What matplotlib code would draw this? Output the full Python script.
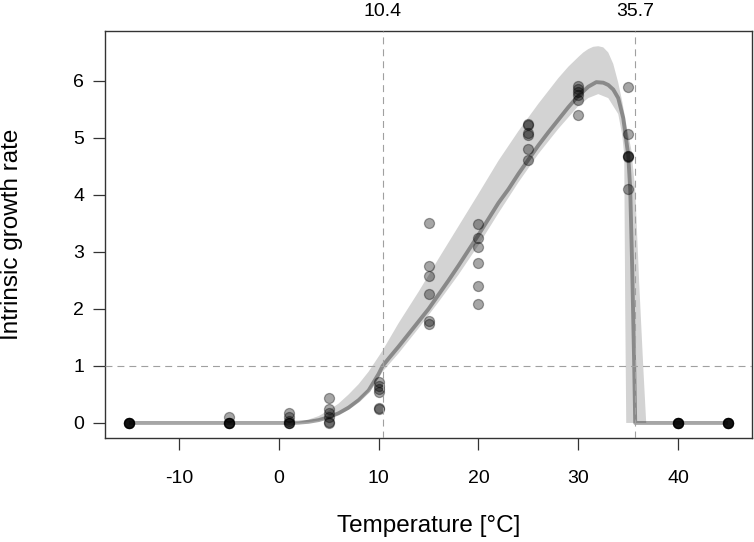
import numpy as np
import matplotlib.pyplot as plt
from matplotlib.transforms import blended_transform_factory

plt.rcParams['font.family'] = ['Liberation Sans', 'DejaVu Sans']
plt.rcParams['lines.scale_dashes'] = False
plt.rcParams['axes.unicode_minus'] = False

# observed growth rates, six replicates per temperature
temps = [-15, -5, 1, 5, 10, 15, 20, 25, 30, 35, 40, 45]
rates = [
    [0, 0, 0, 0, 0, 0],
    [0, 0, 0, 0, 0, 0.1],
    [0.18, 0.1, 0.03, 0, 0, 0],
    [0.44, 0.25, 0.18, 0.1, 0.02, 0],
    [0.71, 0.65, 0.6, 0.55, 0.27, 0.25],
    [3.51, 2.75, 2.57, 2.26, 1.79, 1.74],
    [3.49, 3.25, 3.09, 2.81, 2.41, 2.09],
    [5.24, 5.22, 5.08, 5.06, 4.81, 4.62],
    [5.92, 5.86, 5.8, 5.75, 5.67, 5.4],
    [5.89, 5.07, 4.68, 4.68, 4.67, 4.11],
    [0, 0, 0, 0, 0, 0],
    [0, 0, 0, 0, 0, 0],
]

# fitted curve
fit_t = [-15, 0, 1, 2, 3, 4, 5, 6, 7, 8, 9, 10, 10.4, 11, 12, 13, 14, 15, 16, 17, 18,
         19, 20, 21, 22, 23, 24, 25, 26, 27, 28, 29, 30, 31, 31.8, 32.5, 33, 33.5,
         34, 34.5, 35, 35.2, 35.4, 35.6, 35.7, 45]
fit_r = [0, 0, 0, 0.005, 0.02, 0.05, 0.1, 0.17, 0.27, 0.4, 0.57, 0.86, 1.0, 1.13, 1.34,
         1.56, 1.78, 2.0, 2.25, 2.5, 2.76, 3.03, 3.3, 3.58, 3.86, 4.1, 4.37, 4.62, 4.87,
         5.1, 5.32, 5.54, 5.74, 5.9, 5.98, 5.97, 5.93, 5.85, 5.7, 5.35, 4.7, 4.1, 2.7,
         1.0, 0, 0]

# credible band
up_t = [-15, 1, 2, 3, 4, 5, 6, 7, 8, 9, 10.4, 12, 14, 16, 18, 20, 22, 24, 26, 28, 29,
        30, 30.5, 31, 31.5, 32, 32.5, 33, 33.5, 34, 34.4, 34.9, 35.3, 35.7, 36.1,
        36.5, 36.8, 45]
up_r = [0, 0, 0.02, 0.06, 0.12, 0.22, 0.34, 0.5, 0.68, 0.9, 1.27, 1.75, 2.3, 2.88, 3.45,
        4.02, 4.6, 5.12, 5.6, 6.05, 6.25, 6.42, 6.5, 6.56, 6.6, 6.61, 6.59, 6.5, 6.3,
        5.97, 5.64, 5.15, 4.8, 4.1, 2.45, 1.0, 0, 0]
lo_t = [-15, 1, 2, 3, 4, 5, 6, 7, 8, 9, 10, 10.4, 12, 14, 16, 18, 20, 22, 24, 26, 28,
        30, 31, 32, 33, 34, 34.4, 34.6, 34.7, 34.8, 45]
lo_r = [0, 0, 0.005, 0.015, 0.04, 0.08, 0.14, 0.23, 0.37, 0.55, 0.78, 0.9, 1.22, 1.66,
        2.12, 2.6, 3.12, 3.68, 4.22, 4.72, 5.16, 5.56, 5.7, 5.77, 5.7, 5.42, 5.05, 4.7,
        2.0, 0, 0]

t_lower, t_upper, r_one = 10.4, 35.7, 1

fig = plt.figure(figsize=(7.54, 5.42), dpi=100)
ax = fig.add_axes([0.1393, 0.1919, 0.8581, 0.7509])

ax.fill(up_t + lo_t[::-1], up_r + lo_r[::-1], color='#d3d3d3', lw=0, zorder=1)
ax.plot(fit_t, fit_r, color='black', alpha=0.35, lw=2.8, solid_capstyle='butt', zorder=2)

px = np.repeat(temps, 6)
py = np.concatenate(rates)
ax.scatter(px, py, s=52, facecolor=(0, 0, 0, 0.35), edgecolor=(0, 0, 0, 0.35),
           linewidths=0.9, zorder=3)

dash = dict(color='#a0a0a0', lw=0.8, linestyle=(0, (5, 3.6)), zorder=4)
ax.axvline(t_lower, **dash)
ax.axvline(t_upper, **dash)
ax.axhline(r_one, **dash)

trans = blended_transform_factory(ax.transData, ax.transAxes)
for v in (t_lower, t_upper):
    ax.text(v, 1.0467, f'{v:.1f}', transform=trans, ha='center', va='center', fontsize=14)

ax.set_xlim(-17.4, 47.4)
ax.set_ylim(-0.264, 6.877)
ax.set_xticks([-10, 0, 10, 20, 30, 40])
ax.set_yticks(range(7))
ax.tick_params(length=8.6, width=0.9, color='#333333', labelsize=14)
ax.tick_params(axis='x', pad=14.5)
ax.tick_params(axis='y', pad=6.5)
for s in ax.spines.values():
    s.set_color('#333333')
    s.set_linewidth(1.0)

ax.set_xlabel('Temperature [°C]', fontsize=17.5)
ax.set_ylabel('Intrinsic growth rate', fontsize=17.5)
ax.xaxis.set_label_coords(0.5, -0.19)
ax.yaxis.set_label_coords(-0.127, 0.5)

fig.savefig('out.png', dpi=100)
